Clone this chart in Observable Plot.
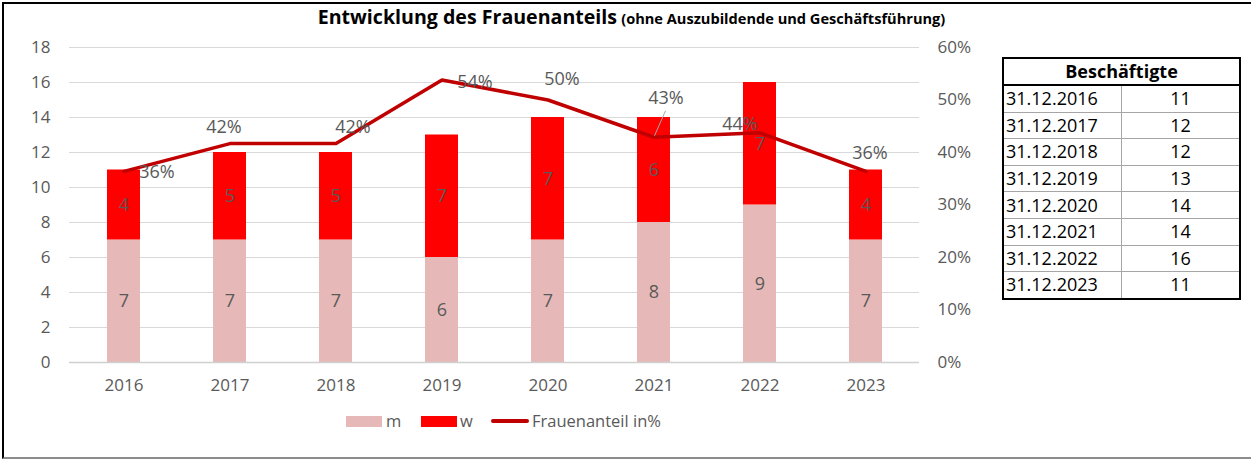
<!DOCTYPE html>
<html>
<head>
<meta charset="utf-8">
<script src="https://cdn.jsdelivr.net/npm/d3@7"></script>
<script src="https://cdn.jsdelivr.net/npm/@observablehq/plot@0.6"></script>
<style>
  html, body { margin: 0; padding: 0; background: #fff; }
  #wrap { position: relative; width: 1251px; height: 459px; overflow: hidden; font-family: "Open Sans", sans-serif; }
  #frame { position: absolute; left: 2px; top: 2px; width: 1249px; height: 453px; border-left: 2px solid #000; border-top: 2px solid #000; border-bottom: 2px solid #8c8c8c; box-sizing: content-box; }
  #title { position: absolute; left: 0; top: 3px; width: 1263px; text-align: center; font-weight: 700; color: #000; white-space: nowrap; }
  #title .main { font-size: 19.6px; }
  #title .sub { font-size: 14.6px; }
  #chart { position: absolute; left: 0; top: 30px; }
  #legend { position: absolute; top: 410px; left: 0; height: 22px; font-size: 16.5px; color: #595959; }
  .sw { position: absolute; top: 6px; width: 36px; height: 11px; }
  .lt { position: absolute; top: 0px; line-height: 22px; white-space: nowrap; }
  .ln { position: absolute; top: 9px; width: 38px; height: 4px; border-radius: 2px; background: #c00000; }
  #tbl { position: absolute; left: 1002px; top: 57px; border-collapse: collapse; table-layout: fixed; width: 239px; font-size: 18px; color: #000; border: 2px solid #000; }
  #tbl th { height: 25px; font-weight: 700; text-align: center; border-bottom: 2px solid #000; padding: 0; line-height: 25px; }
  #tbl td { height: 25.6px; padding: 0; line-height: 25px; border-bottom: 1px solid #a6a6a6; }
  #tbl td.d { text-align: left; padding-left: 2px; border-right: 1px solid #a6a6a6; }
  #tbl td.n { text-align: center; }
</style>
</head>
<body>
<div id="wrap">
  <div id="frame"></div>
  <div id="title"><span class="main">Entwicklung des Frauenanteils</span> <span class="sub">(ohne Auszubildende und Geschäftsführung)</span></div>
  <div id="chart"></div>
  <div id="legend"></div>
  <table id="tbl"></table>
</div>
<script>
// ---- data ----
const years = ["2016", "2017", "2018", "2019", "2020", "2021", "2022", "2023"];
const mValues = [7, 7, 7, 6, 7, 8, 9, 7];
const wValues = [4, 5, 5, 7, 7, 6, 7, 4];
const shareValues = [0.364, 0.417, 0.417, 0.538, 0.500, 0.429, 0.4375, 0.364];
const tableDates = ["31.12.2016", "31.12.2017", "31.12.2018", "31.12.2019", "31.12.2020", "31.12.2021", "31.12.2022", "31.12.2023"];
const tableTotals = [11, 12, 12, 13, 14, 14, 16, 11];
const leftTicks = [0, 2, 4, 6, 8, 10, 12, 14, 16, 18];
const rightTicks = [0, 0.1, 0.2, 0.3, 0.4, 0.5, 0.6];
const seriesNames = ["m", "w"];
const lineName = "Frauenanteil in%";
const tableHeader = "Beschäftigte";

// ---- layout / style (not data) ----
const colors = {m: "#e6b9b8", w: "#ff0000", line: "#c00000", text: "#595959", grid: "#d9d9d9"};
const labelOffsets = [[33, 1], [-6, -16], [17, -16], [33, 2], [14, -21], [12, -39], [-20, -9], [4, -18]];
const leftMax = 18, rightMax = 0.6, k = leftMax / rightMax;

const barData = years.flatMap((y, i) => [
  {year: y, series: "m", value: mValues[i]},
  {year: y, series: "w", value: wValues[i]}
]);
const lineData = years.map((y, i) => ({year: y, share: shareValues[i], idx: i}));

// leader line for the 2021 label
const leaderIdx = 5;
function leaderMark(index, scales) {
  const sx = scales.x;
  let bw = 0;
  if (sx && typeof sx.bandwidth === "function") bw = sx.bandwidth();
  else if (sx && typeof sx.bandwidth === "number") bw = sx.bandwidth;
  const x0 = sx(years[leaderIdx]) + bw / 2;
  const y0 = scales.y(shareValues[leaderIdx] * k);
  const svgNS = "http://www.w3.org/2000/svg";
  const l = document.createElementNS(svgNS, "line");
  l.setAttribute("x1", x0 + 1); l.setAttribute("y1", y0 - 1);
  l.setAttribute("x2", x0 + 12); l.setAttribute("y2", y0 - 26);
  l.setAttribute("stroke", "#a6a6a6"); l.setAttribute("stroke-width", "1");
  const g = document.createElementNS(svgNS, "g");
  g.appendChild(l);
  return g;
}

const labelMarks = lineData.map((d, i) => Plot.text([d], {
  x: "year", y: v => v.share * k,
  text: v => Math.round(v.share * 100) + "%",
  fill: colors.text, fontSize: 18,
  dx: labelOffsets[i][0], dy: labelOffsets[i][1]
}));

const chart = Plot.plot({
  width: 981,
  height: 372,
  marginLeft: 69,
  marginRight: 62,
  marginTop: 17,
  marginBottom: 40,
  style: {fontFamily: "Open Sans, sans-serif", fontSize: "17px", color: colors.text, background: "transparent", overflow: "visible"},
  x: {domain: years, paddingInner: 0.69, paddingOuter: 0.345, label: null},
  y: {domain: [0, leftMax], label: null},
  color: {domain: seriesNames, range: [colors.m, colors.w]},
  marks: [
    Plot.ruleY(leftTicks, {stroke: colors.grid, strokeWidth: 1}),
    Plot.barY(barData, {x: "year", y: "value", fill: "series", order: seriesNames}),
    Plot.ruleY([0], {stroke: "#d0d0d0", strokeWidth: 1.5}),
    Plot.text(barData, Plot.stackY({x: "year", y: "value", z: "series", order: seriesNames, text: d => String(d.value), fill: colors.text, fontSize: 18})),
    Plot.line(lineData, {x: "year", y: d => d.share * k, stroke: colors.line, strokeWidth: 3.5, strokeLinecap: "round", strokeLinejoin: "round"}),
    leaderMark,
    ...labelMarks,
    Plot.axisY(leftTicks, {anchor: "left", tickSize: 0, tickPadding: 19, label: null, fontSize: 17}),
    Plot.axisY(rightTicks.map(p => p * k), {anchor: "right", tickSize: 0, tickPadding: 18, label: null, fontSize: 17, tickFormat: d => Math.round(d / k * 100) + "%", textAnchor: "start"}),
    Plot.axisX({anchor: "bottom", tickSize: 0, tickPadding: 16, label: null, fontSize: 17})
  ]
});
document.getElementById("chart").appendChild(chart);

// ---- legend ----
const legend = document.getElementById("legend");
const legendItems = [
  {type: "box", color: colors.m, label: seriesNames[0], sx: 346, tx: 386},
  {type: "box", color: colors.w, label: seriesNames[1], sx: 421, tx: 460},
  {type: "line", color: colors.line, label: lineName, sx: 491, tx: 532}
];
for (const it of legendItems) {
  const s = document.createElement("div");
  s.className = it.type === "box" ? "sw" : "ln";
  s.style.left = it.sx + "px";
  s.style.background = it.color;
  legend.appendChild(s);
  const t = document.createElement("div");
  t.className = "lt";
  t.style.left = it.tx + "px";
  t.textContent = it.label;
  legend.appendChild(t);
}

// ---- table ----
const tbl = document.getElementById("tbl");
const hr = document.createElement("tr");
const th = document.createElement("th");
th.colSpan = 2; th.textContent = tableHeader;
hr.appendChild(th); tbl.appendChild(hr);
tableDates.forEach((d, i) => {
  const tr = document.createElement("tr");
  const a = document.createElement("td"); a.className = "d"; a.textContent = d;
  const b = document.createElement("td"); b.className = "n"; b.textContent = String(tableTotals[i]);
  tr.appendChild(a); tr.appendChild(b); tbl.appendChild(tr);
});
</script>
</body>
</html>
